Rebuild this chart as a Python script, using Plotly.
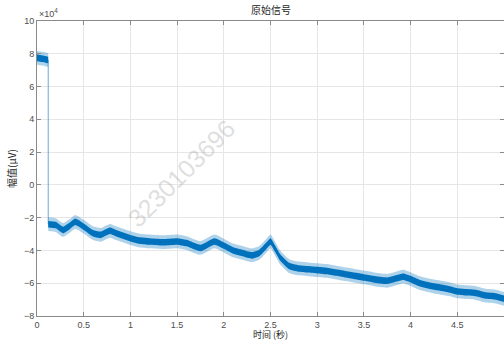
import plotly.graph_objects as go

# Signal level (x10^4 uV) before the step drop
plateau_t = [0.00, 0.03, 0.06, 0.09, 0.12]
plateau_v = [7.75, 7.72, 7.70, 7.66, 7.62]

# Slowly drifting baseline after the drop (x10^4 uV)
trend_t = [0.12, 0.20, 0.28, 0.35, 0.41, 0.50, 0.60, 0.68, 0.78, 0.85,
           1.00, 1.10, 1.20, 1.35, 1.50, 1.60, 1.75, 1.90, 2.00, 2.10,
           2.20, 2.30, 2.38, 2.45, 2.50, 2.55, 2.60, 2.70, 2.80, 2.90,
           3.00, 3.10, 3.20, 3.30, 3.40, 3.50, 3.60, 3.75, 3.85, 3.92,
           4.00, 4.10, 4.25, 4.40, 4.50, 4.60, 4.70, 4.80, 4.90, 5.00]
trend_v = [-2.40, -2.45, -2.75, -2.50, -2.25, -2.55, -2.95, -3.05, -2.80, -2.95,
           -3.25, -3.40, -3.45, -3.50, -3.45, -3.55, -3.85, -3.45, -3.70, -4.00,
           -4.15, -4.30, -4.15, -3.75, -3.45, -3.90, -4.40, -4.95, -5.10, -5.15,
           -5.20, -5.25, -5.35, -5.45, -5.55, -5.65, -5.75, -5.85, -5.70, -5.60,
           -5.75, -6.00, -6.20, -6.35, -6.50, -6.55, -6.60, -6.75, -6.80, -6.95]

y_ticks = [-8, -6, -4, -2, 0, 2, 4, 6, 8, 10]
x_ticks = [0, 0.5, 1, 1.5, 2, 2.5, 3, 3.5, 4, 4.5]
x_tick_text = ["0", "0.5", "1", "1.5", "2", "2.5", "3", "3.5", "4", "4.5"]

BLUE = "#0072BD"
HALO = "rgba(0,114,189,0.32)"
CORE_HALF = 0.2
HALO_HALF = 0.42

fig = go.Figure()


def band(ts, vs, half, color):
    fig.add_trace(go.Scatter(x=ts, y=[v + half for v in vs], mode="lines",
                             line=dict(width=0, shape="spline", smoothing=0.5),
                             hoverinfo="skip", showlegend=False))
    fig.add_trace(go.Scatter(x=ts, y=[v - half for v in vs], mode="lines",
                             line=dict(width=0, shape="spline", smoothing=0.5),
                             fill="tonexty", fillcolor=color,
                             hoverinfo="skip", showlegend=False))


for ts, vs in [(plateau_t, plateau_v), (trend_t, trend_v)]:
    band(ts, vs, HALO_HALF, HALO)
    band(ts, vs, CORE_HALF, BLUE)

# thin trace through the whole record, including the step
fig.add_trace(go.Scatter(x=plateau_t + trend_t, y=plateau_v + trend_v, mode="lines",
                         line=dict(color="rgba(0,114,189,0.6)", width=1),
                         hoverinfo="skip", showlegend=False))

axis_common = dict(showline=True, linecolor="#8a8a8a", linewidth=1, mirror="ticks",
                   ticks="inside", ticklen=4, tickcolor="#8a8a8a",
                   showgrid=True, gridcolor="#e6e6e6", gridwidth=1, zeroline=False,
                   tickfont=dict(family="Liberation Sans, Arial", size=9, color="#4d4d4d"))

fig.update_xaxes(range=[0, 5], tickvals=x_ticks, ticktext=x_tick_text, **axis_common)
fig.update_yaxes(range=[-8, 10], tickvals=y_ticks, **axis_common)

cjk = "Noto Sans CJK SC"
fig.update_layout(
    width=504, height=342,
    margin=dict(l=37, r=0, t=21, b=26),
    plot_bgcolor="white", paper_bgcolor="white",
    annotations=[
        dict(text="原始信号", x=0.5, y=1, xref="paper", yref="paper", yanchor="bottom",
             yshift=2, showarrow=False, font=dict(family=cjk, size=10, color="#262626")),
        dict(text="时间 (秒)", x=0.5, y=0, xref="paper", yref="paper", yanchor="bottom",
             yshift=-26, borderpad=0, showarrow=False,
             font=dict(family=cjk, size=9, color="#262626")),
        dict(text="幅值(μV)", x=0, y=0.5, xref="paper", yref="paper", xanchor="right",
             xshift=-16, textangle=-90, showarrow=False,
             font=dict(family=cjk, size=10, color="#262626")),
        dict(text="×10<sup>4</sup>", x=0, y=1, xref="paper", yref="paper",
             xanchor="left", yanchor="bottom", yshift=0, showarrow=False,
             font=dict(family="Liberation Sans, Arial", size=9, color="#4d4d4d")),
        dict(text="3230103696", x=1.55, y=0.7, xref="x", yref="y", textangle=-45,
             showarrow=False, font=dict(family="Liberation Sans, Arial", size=25,
                                        color="rgba(170,170,170,0.4)")),
    ],
)

fig.write_html("out.html")
